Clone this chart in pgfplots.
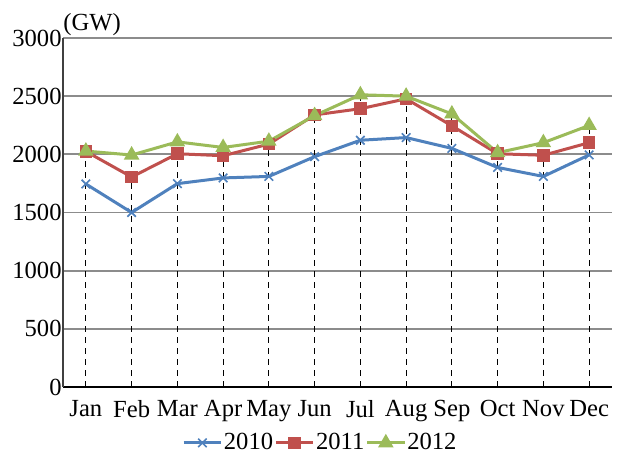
\documentclass[border=0pt]{standalone}
\usepackage{fontspec}
\setmainfont{Liberation Serif}
\usepackage{pgfplots}
\pgfplotsset{compat=1.18}
\definecolor{c10}{HTML}{4F81BD}
\definecolor{c11}{HTML}{C0504D}
\definecolor{c12}{HTML}{9BBB59}
\begin{document}
\begin{tikzpicture}
\begin{axis}[
  name=ax,
  scale only axis, width=274.5pt, height=174.5pt,
  xmin=-0.5, xmax=11.5, ymin=0, ymax=3000,
  ytick={0,500,...,3000},
  xtick={0,...,11},
  xticklabels={Jan,Feb,Mar,Apr,May,Jun,Jul,Aug,Sep,Oct,Nov,Dec},
  axis lines*=left,
  x axis line style={black, line width=1.2pt},
  y axis line style={black!75, line width=0.9pt},
  ymajorgrids, grid style={black!45, line width=0.9pt},
  major tick length=0pt,
  /pgf/number format/assume math mode=true,
  /pgf/number format/1000 sep={},
  tick label style={font=\fontsize{12.3}{14}\selectfont, black},
  yticklabel style={inner sep=0.5pt},
  xticklabel style={yshift=-3pt},
  legend style={draw=none, fill=none, legend columns=-1,
    at={(0.468,-0.16)}, anchor=center,
    font=\fontsize{12.3}{14}\selectfont,
    /tikz/every even column/.append style={column sep=0pt},
    nodes={inner sep=0.6pt},
    inner sep=0pt},
  legend image code/.code={\draw[mark repeat=2,mark phase=2] plot coordinates {(0cm,0cm)(0.33cm,0cm)(0.66cm,0cm)};},
  legend cell align=left,
  clip=false,
]
\addplot[ycomb, black, line width=0.6pt, dash pattern=on 3pt off 2.5pt, forget plot, mark=none]
  coordinates {(0,2025)(1,1994)(2,2107)(3,2059)(4,2113)(5,2333)(6,2512)(7,2500)(8,2347)(9,2014)(10,2100)(11,2248)};
\addplot[c10, line width=1.5pt, mark=x, mark size=3pt, mark options={line width=0.8pt}]
  coordinates {(0,1745)(1,1500)(2,1748)(3,1797)(4,1810)(5,1980)(6,2121)(7,2144)(8,2051)(9,1887)(10,1810)(11,1995)};
\addlegendentry{2010}
\addplot[c11, line width=1.5pt, mark=square*, mark size=2.4pt]
  coordinates {(0,2025)(1,1805)(2,2005)(3,1988)(4,2088)(5,2339)(6,2392)(7,2477)(8,2245)(9,2005)(10,1992)(11,2100)};
\addlegendentry{2011}
\addplot[c12, line width=1.5pt, mark=triangle*, mark size=3pt]
  coordinates {(0,2028)(1,1994)(2,2107)(3,2059)(4,2113)(5,2333)(6,2512)(7,2500)(8,2347)(9,2014)(10,2100)(11,2248)};
\addlegendentry{2012}
\node[anchor=south west, inner sep=0pt, font=\fontsize{12.3}{14}\selectfont] at (rel axis cs:0,1) [yshift=1pt] {(GW)};
\end{axis}
\pgfresetboundingbox
\path[use as bounding box] (ax.south west) ++(-31.5pt,-36.5pt) rectangle ++(311pt,230pt);
\end{tikzpicture}
\end{document}
